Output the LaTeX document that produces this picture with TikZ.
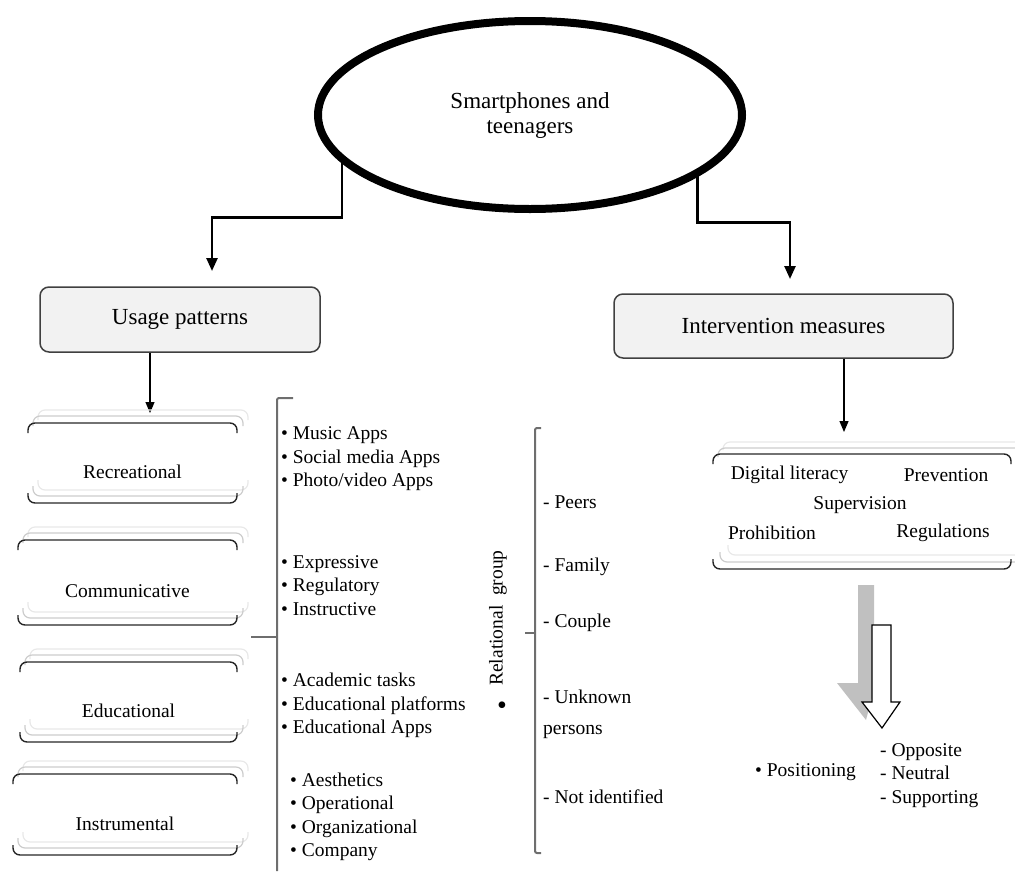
\documentclass[tikz,border=0pt]{standalone}
\usepackage{fontspec}
\setmainfont{Liberation Serif}
\usetikzlibrary{positioning,arrows.meta,shapes.geometric,calc}
\definecolor{boxfill}{HTML}{F2F2F2}
\definecolor{boxline}{HTML}{404040}
\definecolor{bracketgray}{HTML}{6E6E6E}
\definecolor{shadegray}{HTML}{C0C0C0}

\begin{document}
\begin{tikzpicture}[x=1pt, y=-1pt,
    hub/.style={ellipse, draw, line width=8pt, minimum width=424pt, minimum height=188pt,
                inner sep=0pt, outer sep=0pt, align=center, font=\fontsize{23}{25}\selectfont},
    headbox/.style={rectangle, rounded corners=9pt, draw=boxline, line width=1.5pt,
                    fill=boxfill, inner sep=0pt, font=\fontsize{23}{27}\selectfont},
    conn/.style={line width=2.5pt, -{Triangle[width=11pt,length=13pt]}},
    thinconn/.style={line width=1.2pt, -{Triangle[width=9pt,length=11pt]}},
    listtext/.style={anchor=west, align=left, inner sep=0pt, font=\fontsize{19.5}{23.5}\selectfont},
    cattext/.style={inner sep=0pt, font=\fontsize{19.5}{23.5}\selectfont},
    catline/.style={draw=black!85, line width=1.4pt, rounded corners=7pt},
    catshade/.style={line width=1.2pt, rounded corners=7pt},
    bracketline/.style={draw=bracketgray, line width=2pt, rounded corners=2pt},
  ]
  \useasboundingbox (0,0) rectangle (1015,871);

  % central topic
  \node[hub] (hub) at (530,115) {Smartphones and\\teenagers};

  \node[headbox, minimum width=280pt, minimum height=65pt] (usage) at (180,319.5) {Usage patterns};
  \node[headbox, minimum width=339pt, minimum height=64pt] (measures) at (783.5,326) {Intervention measures};

  \coordinate (usetip) at (212,271);
  \coordinate (meastip) at (790,279);
  \draw[conn] (hub.193) -- ++(0,59) -| (usetip);
  \draw[conn] (hub.341) -- ++(0,50) -| (meastip);

  % usage categories
  \coordinate (rectip) at (150,413);
  \draw[thinconn] (usage.south -| rectip) -- (rectip);
  \foreach \nm/\lx/\ty/\by/\txt in {rec/28/423/503/Recreational, com/18/540/625/Communicative,
                                    edu/20/662/742/Educational, ins/13/774/855/Instrumental}{
    \draw[catshade, draw=gray!18] (\lx+10,\ty-3) |- (248,\ty-13) -- (248,\ty-3);
    \draw[catshade, draw=gray!40] (\lx+5,\ty+3) |- (243,\ty-7) -- (243,\ty+3);
    \draw[catshade, draw=gray!18] (\lx+10,\by-23) |- (248,\by-13) -- (248,\by-23);
    \draw[catshade, draw=gray!40] (\lx+5,\by-17) |- (243,\by-7) -- (243,\by-17);
    \draw[catline] (\lx,\ty+10) |- (237,\ty) -- (237,\ty+10);
    \draw[catline] (\lx,\by-10) |- (237,\by) -- (237,\by-10);
    \node[cattext] (\nm) at ({(\lx+237)/2},{(\ty+\by)/2+9}) {\txt};
  }

  % first bracket and its lists
  \draw[bracketline] (293,398) -| (277,871);
  \draw[bracketline] (277,637) -- (251,637);
  \node[listtext] (recapps) at (281,459) {• Music Apps\\• Social media Apps\\• Photo/video Apps};
  \node[listtext] (comfuncs) at (281,585.5) {• Expressive\\• Regulatory\\• Instructive};
  \node[listtext] (edutasks) at (281,705.5) {• Academic tasks\\• Educational platforms\\• Educational Apps};
  \node[listtext] (insareas) at (290,817) {• Aesthetics\\• Operational\\• Organizational\\• Company};

  % relational group
  \node[cattext, rotate=90] (relgroup) at (498,618) {Relational\ \ group};
  \node[cattext, font=\fontsize{28}{28}\selectfont] (relbullet) at (502,708) {•};
  \draw[bracketline] (541,428) -| (535,853) -- (541,853);
  \draw[bracketline] (535,633) -- (525,633);
  \node[listtext] (peers) at (543,502) {- Peers};
  \node[listtext] (family) at (543,567) {- Family};
  \node[listtext] (couple) at (543,623) {- Couple};
  \node[listtext] (unknown) at (543,714.5) {- Unknown\\[7pt]persons};
  \node[listtext] (notid) at (543,797) {- Not identified};

  % measures
  \coordinate (actiontip) at (844,432);
  \draw[thinconn] (measures.south -| actiontip) -- (actiontip);
  \draw[catshade, draw=gray!18] (723,450) |- (1015,442);
  \draw[catshade, draw=gray!40] (718,457) |- (1015,448);
  \draw[catshade, draw=gray!18] (728,545) |- (1015,555);
  \draw[catshade, draw=gray!40] (720,552) |- (1015,562);
  \draw[catline] (713,464) |- (1011,454) -- (1011,464);
  \draw[catline] (713,559) |- (1011,569) -- (1011,559);
  \node[cattext] (literacy) at (789.5,475) {Digital literacy};
  \node[cattext] (prevention) at (946,475) {Prevention};
  \node[cattext] (supervision) at (860,505) {Supervision};
  \node[cattext] (prohibition) at (772,533) {Prohibition};
  \node[cattext] (regulations) at (943,533) {Regulations};

  % block arrow with shadow
  \fill[shadegray] (858,585) -- (874,585) -- (874,690) -- (866,720) -- (837,683) -- (858,683) -- cycle;
  \draw[line width=1.2pt, fill=white] (872,625) -- (891,625) -- (891,702) -- (900,702)
    -- (882,728) -- (862,702) -- (872,702) -- cycle;

  \node[listtext] (positioning) at (755,772) {• Positioning};
  \node[listtext] (stance) at (880,775.5) {- Opposite\\- Neutral\\- Supporting};
\end{tikzpicture}
\end{document}
